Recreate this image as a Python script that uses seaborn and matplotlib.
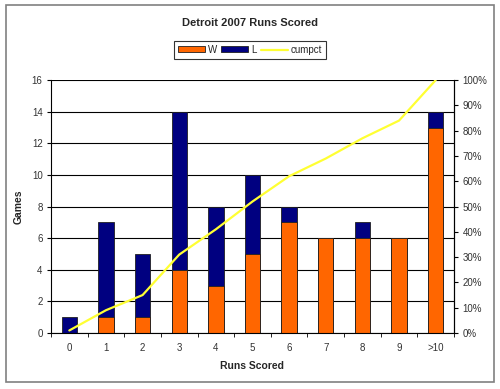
import matplotlib
matplotlib.use("Agg")
import matplotlib.pyplot as plt
import matplotlib.patches as mpatches
import matplotlib.lines as mlines
import seaborn as sns
import pandas as pd

# runs scored per game, Detroit 2007
runs = ["0", "1", "2", "3", "4", "5", "6", "7", "8", "9", ">10"]
wins = [0, 1, 1, 4, 3, 5, 7, 6, 6, 6, 13]
losses = [1, 6, 4, 10, 5, 5, 1, 0, 1, 0, 1]
cumpct = [1, 9, 15, 31, 41, 52, 62, 69, 77, 84, 100]

df = pd.DataFrame({"runs": runs, "W": wins, "L": losses, "cumpct": cumpct})
df["total"] = df["W"] + df["L"]

sns.set_style("white")
plt.rcParams["font.family"] = ["Liberation Sans", "DejaVu Sans"]

fig = plt.figure(figsize=(5, 3.89), dpi=100)
fig.patches.append(mpatches.Rectangle((0.012, 0.018), 0.976, 0.968, transform=fig.transFigure,
                                      fill=False, edgecolor="#808080", linewidth=1.2))
ax = fig.add_axes([0.102, 0.144, 0.806, 0.65])

# stacked bars: losses on top of wins
sns.barplot(data=df, x="runs", y="total", color="#000080", width=0.42,
            edgecolor="#202020", linewidth=0.6, ax=ax, saturation=1)
sns.barplot(data=df, x="runs", y="W", color="#FF6600", width=0.42,
            edgecolor="#202020", linewidth=0.6, ax=ax, saturation=1)

ax.set_ylim(0, 16)
ax.set_yticks(range(0, 17, 2))
ax.set_xlim(-0.5, len(runs) - 0.5)
ax.yaxis.grid(True, color="black", linewidth=0.8)
ax.set_axisbelow(True)
ax.set_xlabel("Runs Scored", fontsize=7.5, fontweight="bold", labelpad=6)
ax.set_ylabel("Games", fontsize=7.5, fontweight="bold", labelpad=6)
ax.tick_params(axis="both", labelsize=7, colors="#333333", length=0, pad=7)
ax.tick_params(axis="y", length=3, pad=3, left=True, color="black")
# category separators on x axis
ax.set_xticks([i + 0.5 for i in range(-1, len(runs))], minor=True)
ax.tick_params(axis="x", which="minor", length=3, bottom=True, color="black")
ax.spines["top"].set_visible(False)
for s in ["left", "bottom", "right"]:
    ax.spines[s].set_color("black")
    ax.spines[s].set_linewidth(0.8)

ax2 = ax.twinx()
sns.lineplot(x=list(range(len(runs))), y=df["cumpct"], color="#FFFF33", linewidth=1.6, ax=ax2)
ax2.set_ylim(0, 100)
ax2.set_yticks(range(0, 101, 10))
ax2.set_yticklabels([f"{v}%" for v in range(0, 101, 10)])
ax2.tick_params(axis="y", labelsize=7, colors="#333333", length=3, pad=3, right=True)
ax2.tick_params(axis="y", color="black")
ax2.set_ylabel("")
for s in ["top", "left", "bottom"]:
    ax2.spines[s].set_visible(False)
ax2.spines["right"].set_color("black")
ax2.spines["right"].set_linewidth(0.8)

fig.text(0.5, 0.942, "Detroit 2007 Runs Scored", ha="center", va="center",
         fontsize=8, fontweight="bold")

handles = [mpatches.Patch(facecolor="#FF6600", edgecolor="#202020", linewidth=0.6, label="W"),
           mpatches.Patch(facecolor="#000080", edgecolor="#202020", linewidth=0.6, label="L"),
           mlines.Line2D([], [], color="#FFFF33", linewidth=1.6, label="cumpct")]
leg = fig.legend(handles=handles, loc="center", bbox_to_anchor=(0.5, 0.872), ncol=3,
                 fontsize=7, frameon=True, fancybox=False, edgecolor="black",
                 handlelength=2.8, handleheight=0.6, columnspacing=0.4, handletextpad=0.3,
                 borderpad=0.4)
leg.get_frame().set_linewidth(0.8)

fig.savefig("out.png", dpi=100)
